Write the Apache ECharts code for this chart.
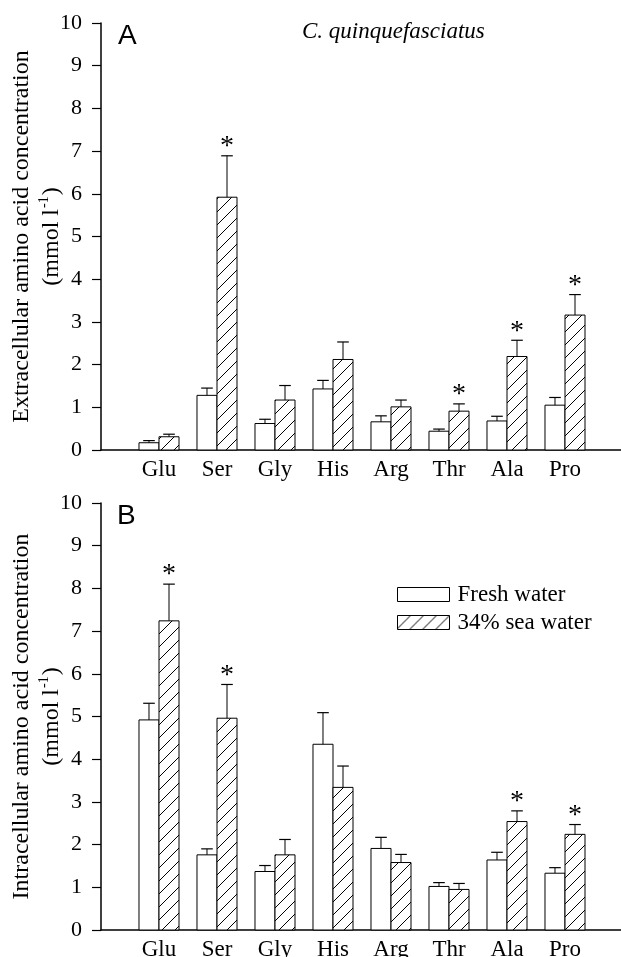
<!DOCTYPE html>
<html>
<head>
<meta charset="utf-8">
<script src="https://cdn.jsdelivr.net/npm/echarts@6/dist/echarts.min.js"></script>
<style>
html,body{margin:0;padding:0;background:#fff;}
#chart{width:621px;height:957px;}
</style>
</head>
<body>
<div id="chart"></div>
<script>
// ---- data ----
const categories = ['Glu','Ser','Gly','His','Arg','Thr','Ala','Pro'];
const yTicks = [0,1,2,3,4,5,6,7,8,9,10];
const seriesNames = ['Fresh water','34% sea water'];

// Panel A: extracellular
const extraFresh   = [0.17,1.28,0.62,1.43,0.66,0.44,0.68,1.05];
const extraFreshSE = [0.05,0.17,0.10,0.20,0.14,0.05,0.11,0.18];
const extraSea     = [0.31,5.92,1.17,2.12,1.01,0.91,2.19,3.16];
const extraSeaSE   = [0.06,0.97,0.34,0.41,0.16,0.17,0.38,0.48];
const extraSig     = [0,1,0,0,0,1,1,1];

// Panel B: intracellular
const intraFresh   = [4.92,1.76,1.37,4.35,1.91,1.02,1.64,1.33];
const intraFreshSE = [0.39,0.14,0.14,0.74,0.26,0.09,0.18,0.13];
const intraSea     = [7.24,4.96,1.76,3.34,1.58,0.95,2.54,2.24];
const intraSeaSE   = [0.86,0.79,0.36,0.50,0.19,0.14,0.25,0.23];
const intraSig     = [1,1,0,0,0,0,1,1];

// ---- styles ----
const SERIF = 'Liberation Serif, Times New Roman, serif';
const SANS = 'Liberation Sans, Arial, sans-serif';
const BAR_W = 0.345;   // bar width in category units
const CAP_W = 0.2;     // error cap width in category units

function makeHatch(){
  const s = 13;
  const c = document.createElement('canvas');
  c.width = s; c.height = s;
  const g = c.getContext('2d');
  g.fillStyle = '#fff'; g.fillRect(0,0,s,s);
  g.strokeStyle = '#000'; g.lineWidth = 1;
  g.beginPath();
  g.moveTo(0,s); g.lineTo(s,0);
  g.moveTo(-2,2); g.lineTo(2,-2);
  g.moveTo(s-2,s+2); g.lineTo(s+2,s-2);
  g.stroke();
  return c;
}
const hatch = {image: makeHatch(), repeat: 'repeat'};

function buildData(vals, se, sig, showSig){
  return vals.map((v,i)=>[i, v, se[i], showSig ? sig[i] : 0]);
}

function makeRender(side){
  return function(params, api){
    const i = api.value(0), v = api.value(1), se = api.value(2), sig = api.value(3);
    const x0 = side < 0 ? i - BAR_W : i;
    const pTop = api.coord([x0, v]);
    const pBot = api.coord([x0 + BAR_W, 0]);
    const xc = api.coord([x0 + BAR_W/2, 0])[0];
    const yErr = api.coord([i, v + se])[1];
    const capHalf = api.size([CAP_W, 0])[0] / 2;
    const children = [
      {type:'rect', shape:{x:pTop[0], y:pTop[1], width:pBot[0]-pTop[0], height:pBot[1]-pTop[1]},
       style:{fill: side < 0 ? '#fff' : hatch, stroke:'#000', lineWidth:1}},
      {type:'line', shape:{x1:xc, y1:pTop[1], x2:xc, y2:yErr}, style:{stroke:'#000', lineWidth:1}},
      {type:'line', shape:{x1:xc-capHalf, y1:yErr, x2:xc+capHalf, y2:yErr}, style:{stroke:'#000', lineWidth:1.2}}
    ];
    if (sig) {
      children.push({type:'text', style:{text:'*', x:xc, y:yErr-9, align:'center', verticalAlign:'middle',
        font:'28px ' + SERIF, fill:'#000'}});
    }
    return {type:'group', children};
  };
}

const chart = echarts.init(document.getElementById('chart'), null, {renderer:'canvas'});

function yAxisFor(gridIndex, title){
  return {
    type:'value', gridIndex, min:yTicks[0], max:yTicks[yTicks.length-1], interval:1,
    axisLine:{show:true, onZero:false, lineStyle:{color:'#000', width:1.5}},
    axisTick:{show:true, inside:false, length:9, lineStyle:{color:'#000', width:1.2}},
    axisLabel:{color:'#000', fontFamily:SERIF, fontSize:22, margin:19},
    splitLine:{show:false},
    name:'{a|' + title + '}\n{a|(mmol l}{s|-1}{a|)}',
    nameLocation:'middle', nameGap:34, nameRotate:90, nameMoveOverlap:false,
    nameTextStyle:{color:'#000', fontFamily:SERIF, fontSize:24, lineHeight:30,
      rich:{a:{fontFamily:SERIF, fontSize:24, color:'#000', lineHeight:30},
            s:{fontFamily:SERIF, fontSize:14, color:'#000', verticalAlign:'top', lineHeight:30, padding:[0,1,0,1]}}}
  };
}
function xAxisFor(gridIndex){
  return {
    type:'value', gridIndex, min:-1, max:categories.length, interval:1,
    axisLine:{show:true, onZero:false, lineStyle:{color:'#000', width:1.5}},
    axisTick:{show:false},
    splitLine:{show:false},
    axisLabel:{color:'#000', fontFamily:SERIF, fontSize:23, margin:8,
      formatter:(v)=> (v>=0 && v<categories.length) ? categories[v] : ''}
  };
}

const option = {
  animation:false,
  backgroundColor:'#fff',
  grid:[
    {left:101, top:23, width:522, height:427, containLabel:false, outerBoundsMode:'none'},
    {left:101, top:503, width:522, height:427, containLabel:false, outerBoundsMode:'none'}
  ],
  xAxis:[xAxisFor(0), xAxisFor(1)],
  yAxis:[yAxisFor(0,'Extracellular amino acid concentration'), yAxisFor(1,'Intracellular amino acid concentration')],
  legend:{
    orient:'vertical', left:397, top:583, padding:0, itemWidth:52, itemHeight:14, itemGap:5,
    icon:'rect',
    textStyle:{color:'#000', fontFamily:SERIF, fontSize:23, padding:[0,0,0,3]},
    data:[
      {name:seriesNames[0], itemStyle:{color:'#fff', borderColor:'#000', borderWidth:1}},
      {name:seriesNames[1], itemStyle:{color:hatch, borderColor:'#000', borderWidth:1}}
    ]
  },
  graphic:[
    {type:'text', left:118, top:22, style:{text:'A', font:'28px ' + SANS, fill:'#000'}},
    {type:'text', left:117, top:502, style:{text:'B', font:'28px ' + SANS, fill:'#000'}},
    {type:'text', left:302, top:20, style:{text:'C. quinquefasciatus', font:'italic 23px ' + SERIF, fill:'#000'}}
  ],
  series:[
    {type:'custom', name:seriesNames[0], xAxisIndex:0, yAxisIndex:0, renderItem:makeRender(-1),
     itemStyle:{color:'#fff', borderColor:'#000', borderWidth:1},
     encode:{x:0, y:1}, data:buildData(extraFresh, extraFreshSE, extraSig, false)},
    {type:'custom', name:seriesNames[1], xAxisIndex:0, yAxisIndex:0, renderItem:makeRender(1),
     itemStyle:{color:hatch, borderColor:'#000', borderWidth:1},
     encode:{x:0, y:1}, data:buildData(extraSea, extraSeaSE, extraSig, true)},
    {type:'custom', name:seriesNames[0], xAxisIndex:1, yAxisIndex:1, renderItem:makeRender(-1),
     itemStyle:{color:'#fff', borderColor:'#000', borderWidth:1},
     encode:{x:0, y:1}, data:buildData(intraFresh, intraFreshSE, intraSig, false)},
    {type:'custom', name:seriesNames[1], xAxisIndex:1, yAxisIndex:1, renderItem:makeRender(1),
     itemStyle:{color:hatch, borderColor:'#000', borderWidth:1},
     encode:{x:0, y:1}, data:buildData(intraSea, intraSeaSE, intraSig, true)}
  ]
};
chart.setOption(option);
</script>
</body>
</html>
